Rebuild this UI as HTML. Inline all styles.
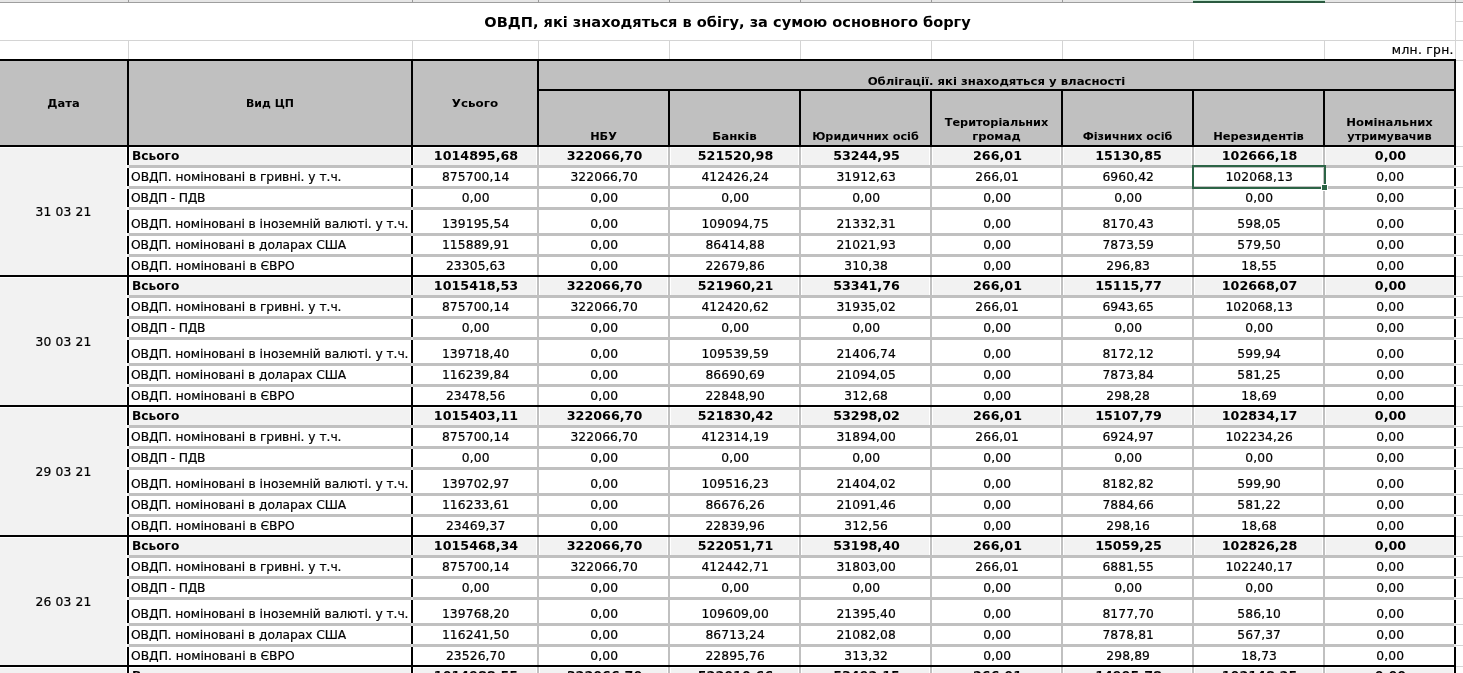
<!DOCTYPE html>
<html lang="uk"><head><meta charset="utf-8"><title>ОВДП, які знаходяться в обігу, за сумою основного боргу</title>
<style>
html,body{margin:0;padding:0;background:#fff}
#s{position:relative;width:1463px;height:673px;overflow:hidden;background:#fff;font-family:"DejaVu Sans", "Liberation Sans", sans-serif;color:#000}
.b{position:absolute;box-sizing:content-box}
.t{position:absolute;white-space:nowrap;height:0;line-height:0}
.n{font-size:12.3px;-webkit-text-stroke:0.2px #000}
.nb{font-size:12.3px;font-weight:bold}
.h{font-size:11px;font-weight:bold}
.tt{font-size:14.5px;font-weight:bold}
</style></head>
<body><div id="s">
<div class="b" style="left:0px;top:0px;width:1463px;height:2px;background:#e6e6e6"></div>
<div class="b" style="left:0px;top:2px;width:1463px;height:1px;background:#9e9e9e"></div>
<div class="b" style="left:128px;top:0px;width:1px;height:2px;background:#9a9a9a"></div>
<div class="b" style="left:412px;top:0px;width:1px;height:2px;background:#9a9a9a"></div>
<div class="b" style="left:538px;top:0px;width:1px;height:2px;background:#9a9a9a"></div>
<div class="b" style="left:669px;top:0px;width:1px;height:2px;background:#9a9a9a"></div>
<div class="b" style="left:800px;top:0px;width:1px;height:2px;background:#9a9a9a"></div>
<div class="b" style="left:931px;top:0px;width:1px;height:2px;background:#9a9a9a"></div>
<div class="b" style="left:1062px;top:0px;width:1px;height:2px;background:#9a9a9a"></div>
<div class="b" style="left:1193px;top:0px;width:1px;height:2px;background:#9a9a9a"></div>
<div class="b" style="left:1324px;top:0px;width:1px;height:2px;background:#9a9a9a"></div>
<div class="b" style="left:1455px;top:0px;width:1px;height:2px;background:#9a9a9a"></div>
<div class="b" style="left:1193px;top:0px;width:132px;height:1px;background:#c4e6d2"></div>
<div class="b" style="left:1193px;top:1px;width:132px;height:2px;background:#2a5a40"></div>
<div class="b" style="left:0px;top:40px;width:1463px;height:1px;background:#d4d4d4"></div>
<div class="b" style="left:1456px;top:21px;width:7px;height:1px;background:#d4d4d4"></div>
<div class="b" style="left:128px;top:41px;width:1px;height:18px;background:#d4d4d4"></div>
<div class="b" style="left:412px;top:41px;width:1px;height:18px;background:#d4d4d4"></div>
<div class="b" style="left:538px;top:41px;width:1px;height:18px;background:#d4d4d4"></div>
<div class="b" style="left:669px;top:41px;width:1px;height:18px;background:#d4d4d4"></div>
<div class="b" style="left:800px;top:41px;width:1px;height:18px;background:#d4d4d4"></div>
<div class="b" style="left:931px;top:41px;width:1px;height:18px;background:#d4d4d4"></div>
<div class="b" style="left:1062px;top:41px;width:1px;height:18px;background:#d4d4d4"></div>
<div class="b" style="left:1193px;top:41px;width:1px;height:18px;background:#d4d4d4"></div>
<div class="b" style="left:1324px;top:41px;width:1px;height:18px;background:#d4d4d4"></div>
<div class="b" style="left:1455px;top:41px;width:1px;height:18px;background:#d4d4d4"></div>
<div class="b" style="left:1455px;top:3px;width:1px;height:56px;background:#d4d4d4"></div>
<div class="b" style="left:1456px;top:60px;width:7px;height:1px;background:#d4d4d4"></div>
<div class="b" style="left:1456px;top:146px;width:7px;height:1px;background:#d4d4d4"></div>
<div class="b" style="left:1456px;top:166px;width:7px;height:1px;background:#d4d4d4"></div>
<div class="b" style="left:1456px;top:187px;width:7px;height:1px;background:#d4d4d4"></div>
<div class="b" style="left:1456px;top:208px;width:7px;height:1px;background:#d4d4d4"></div>
<div class="b" style="left:1456px;top:234px;width:7px;height:1px;background:#d4d4d4"></div>
<div class="b" style="left:1456px;top:255px;width:7px;height:1px;background:#d4d4d4"></div>
<div class="b" style="left:1456px;top:276px;width:7px;height:1px;background:#d4d4d4"></div>
<div class="b" style="left:1456px;top:296px;width:7px;height:1px;background:#d4d4d4"></div>
<div class="b" style="left:1456px;top:317px;width:7px;height:1px;background:#d4d4d4"></div>
<div class="b" style="left:1456px;top:338px;width:7px;height:1px;background:#d4d4d4"></div>
<div class="b" style="left:1456px;top:364px;width:7px;height:1px;background:#d4d4d4"></div>
<div class="b" style="left:1456px;top:385px;width:7px;height:1px;background:#d4d4d4"></div>
<div class="b" style="left:1456px;top:406px;width:7px;height:1px;background:#d4d4d4"></div>
<div class="b" style="left:1456px;top:426px;width:7px;height:1px;background:#d4d4d4"></div>
<div class="b" style="left:1456px;top:447px;width:7px;height:1px;background:#d4d4d4"></div>
<div class="b" style="left:1456px;top:468px;width:7px;height:1px;background:#d4d4d4"></div>
<div class="b" style="left:1456px;top:494px;width:7px;height:1px;background:#d4d4d4"></div>
<div class="b" style="left:1456px;top:515px;width:7px;height:1px;background:#d4d4d4"></div>
<div class="b" style="left:1456px;top:536px;width:7px;height:1px;background:#d4d4d4"></div>
<div class="b" style="left:1456px;top:556px;width:7px;height:1px;background:#d4d4d4"></div>
<div class="b" style="left:1456px;top:577px;width:7px;height:1px;background:#d4d4d4"></div>
<div class="b" style="left:1456px;top:598px;width:7px;height:1px;background:#d4d4d4"></div>
<div class="b" style="left:1456px;top:624px;width:7px;height:1px;background:#d4d4d4"></div>
<div class="b" style="left:1456px;top:645px;width:7px;height:1px;background:#d4d4d4"></div>
<div class="b" style="left:1456px;top:666px;width:7px;height:1px;background:#d4d4d4"></div>
<div class="b" style="left:0px;top:61px;width:1454px;height:84px;background:#c0c0c0"></div>
<div class="b" style="left:0px;top:148px;width:126px;height:127px;background:#f2f2f2"></div>
<div class="b" style="left:130px;top:148px;width:280px;height:17px;background:#f2f2f2"></div>
<div class="b" style="left:414px;top:148px;width:122px;height:17px;background:#f2f2f2"></div>
<div class="b" style="left:540px;top:148px;width:127px;height:17px;background:#f2f2f2"></div>
<div class="b" style="left:671px;top:148px;width:127px;height:17px;background:#f2f2f2"></div>
<div class="b" style="left:802px;top:148px;width:127px;height:17px;background:#f2f2f2"></div>
<div class="b" style="left:933px;top:148px;width:127px;height:17px;background:#f2f2f2"></div>
<div class="b" style="left:1064px;top:148px;width:127px;height:17px;background:#f2f2f2"></div>
<div class="b" style="left:1195px;top:148px;width:127px;height:17px;background:#f2f2f2"></div>
<div class="b" style="left:1326px;top:148px;width:127px;height:17px;background:#f2f2f2"></div>
<div class="b" style="left:0px;top:278px;width:126px;height:127px;background:#f2f2f2"></div>
<div class="b" style="left:130px;top:278px;width:280px;height:17px;background:#f2f2f2"></div>
<div class="b" style="left:414px;top:278px;width:122px;height:17px;background:#f2f2f2"></div>
<div class="b" style="left:540px;top:278px;width:127px;height:17px;background:#f2f2f2"></div>
<div class="b" style="left:671px;top:278px;width:127px;height:17px;background:#f2f2f2"></div>
<div class="b" style="left:802px;top:278px;width:127px;height:17px;background:#f2f2f2"></div>
<div class="b" style="left:933px;top:278px;width:127px;height:17px;background:#f2f2f2"></div>
<div class="b" style="left:1064px;top:278px;width:127px;height:17px;background:#f2f2f2"></div>
<div class="b" style="left:1195px;top:278px;width:127px;height:17px;background:#f2f2f2"></div>
<div class="b" style="left:1326px;top:278px;width:127px;height:17px;background:#f2f2f2"></div>
<div class="b" style="left:0px;top:408px;width:126px;height:127px;background:#f2f2f2"></div>
<div class="b" style="left:130px;top:408px;width:280px;height:17px;background:#f2f2f2"></div>
<div class="b" style="left:414px;top:408px;width:122px;height:17px;background:#f2f2f2"></div>
<div class="b" style="left:540px;top:408px;width:127px;height:17px;background:#f2f2f2"></div>
<div class="b" style="left:671px;top:408px;width:127px;height:17px;background:#f2f2f2"></div>
<div class="b" style="left:802px;top:408px;width:127px;height:17px;background:#f2f2f2"></div>
<div class="b" style="left:933px;top:408px;width:127px;height:17px;background:#f2f2f2"></div>
<div class="b" style="left:1064px;top:408px;width:127px;height:17px;background:#f2f2f2"></div>
<div class="b" style="left:1195px;top:408px;width:127px;height:17px;background:#f2f2f2"></div>
<div class="b" style="left:1326px;top:408px;width:127px;height:17px;background:#f2f2f2"></div>
<div class="b" style="left:0px;top:538px;width:126px;height:127px;background:#f2f2f2"></div>
<div class="b" style="left:130px;top:538px;width:280px;height:17px;background:#f2f2f2"></div>
<div class="b" style="left:414px;top:538px;width:122px;height:17px;background:#f2f2f2"></div>
<div class="b" style="left:540px;top:538px;width:127px;height:17px;background:#f2f2f2"></div>
<div class="b" style="left:671px;top:538px;width:127px;height:17px;background:#f2f2f2"></div>
<div class="b" style="left:802px;top:538px;width:127px;height:17px;background:#f2f2f2"></div>
<div class="b" style="left:933px;top:538px;width:127px;height:17px;background:#f2f2f2"></div>
<div class="b" style="left:1064px;top:538px;width:127px;height:17px;background:#f2f2f2"></div>
<div class="b" style="left:1195px;top:538px;width:127px;height:17px;background:#f2f2f2"></div>
<div class="b" style="left:1326px;top:538px;width:127px;height:17px;background:#f2f2f2"></div>
<div class="b" style="left:0px;top:668px;width:126px;height:127px;background:#f2f2f2"></div>
<div class="b" style="left:130px;top:668px;width:280px;height:17px;background:#f2f2f2"></div>
<div class="b" style="left:414px;top:668px;width:122px;height:17px;background:#f2f2f2"></div>
<div class="b" style="left:540px;top:668px;width:127px;height:17px;background:#f2f2f2"></div>
<div class="b" style="left:671px;top:668px;width:127px;height:17px;background:#f2f2f2"></div>
<div class="b" style="left:802px;top:668px;width:127px;height:17px;background:#f2f2f2"></div>
<div class="b" style="left:933px;top:668px;width:127px;height:17px;background:#f2f2f2"></div>
<div class="b" style="left:1064px;top:668px;width:127px;height:17px;background:#f2f2f2"></div>
<div class="b" style="left:1195px;top:668px;width:127px;height:17px;background:#f2f2f2"></div>
<div class="b" style="left:1326px;top:668px;width:127px;height:17px;background:#f2f2f2"></div>
<div class="b" style="left:129px;top:165px;width:1327px;height:3px;background:#c0c0c0"></div>
<div class="b" style="left:129px;top:186px;width:1327px;height:3px;background:#c0c0c0"></div>
<div class="b" style="left:129px;top:207px;width:1327px;height:3px;background:#c0c0c0"></div>
<div class="b" style="left:129px;top:233px;width:1327px;height:3px;background:#c0c0c0"></div>
<div class="b" style="left:129px;top:254px;width:1327px;height:3px;background:#c0c0c0"></div>
<div class="b" style="left:537px;top:147px;width:2px;height:129px;background:#c0c0c0"></div>
<div class="b" style="left:668px;top:147px;width:2px;height:129px;background:#c0c0c0"></div>
<div class="b" style="left:799px;top:147px;width:2px;height:129px;background:#c0c0c0"></div>
<div class="b" style="left:930px;top:147px;width:2px;height:129px;background:#c0c0c0"></div>
<div class="b" style="left:1061px;top:147px;width:2px;height:129px;background:#c0c0c0"></div>
<div class="b" style="left:1192px;top:147px;width:2px;height:129px;background:#c0c0c0"></div>
<div class="b" style="left:1323px;top:147px;width:2px;height:129px;background:#c0c0c0"></div>
<div class="b" style="left:129px;top:295px;width:1327px;height:3px;background:#c0c0c0"></div>
<div class="b" style="left:129px;top:316px;width:1327px;height:3px;background:#c0c0c0"></div>
<div class="b" style="left:129px;top:337px;width:1327px;height:3px;background:#c0c0c0"></div>
<div class="b" style="left:129px;top:363px;width:1327px;height:3px;background:#c0c0c0"></div>
<div class="b" style="left:129px;top:384px;width:1327px;height:3px;background:#c0c0c0"></div>
<div class="b" style="left:537px;top:277px;width:2px;height:129px;background:#c0c0c0"></div>
<div class="b" style="left:668px;top:277px;width:2px;height:129px;background:#c0c0c0"></div>
<div class="b" style="left:799px;top:277px;width:2px;height:129px;background:#c0c0c0"></div>
<div class="b" style="left:930px;top:277px;width:2px;height:129px;background:#c0c0c0"></div>
<div class="b" style="left:1061px;top:277px;width:2px;height:129px;background:#c0c0c0"></div>
<div class="b" style="left:1192px;top:277px;width:2px;height:129px;background:#c0c0c0"></div>
<div class="b" style="left:1323px;top:277px;width:2px;height:129px;background:#c0c0c0"></div>
<div class="b" style="left:129px;top:425px;width:1327px;height:3px;background:#c0c0c0"></div>
<div class="b" style="left:129px;top:446px;width:1327px;height:3px;background:#c0c0c0"></div>
<div class="b" style="left:129px;top:467px;width:1327px;height:3px;background:#c0c0c0"></div>
<div class="b" style="left:129px;top:493px;width:1327px;height:3px;background:#c0c0c0"></div>
<div class="b" style="left:129px;top:514px;width:1327px;height:3px;background:#c0c0c0"></div>
<div class="b" style="left:537px;top:407px;width:2px;height:129px;background:#c0c0c0"></div>
<div class="b" style="left:668px;top:407px;width:2px;height:129px;background:#c0c0c0"></div>
<div class="b" style="left:799px;top:407px;width:2px;height:129px;background:#c0c0c0"></div>
<div class="b" style="left:930px;top:407px;width:2px;height:129px;background:#c0c0c0"></div>
<div class="b" style="left:1061px;top:407px;width:2px;height:129px;background:#c0c0c0"></div>
<div class="b" style="left:1192px;top:407px;width:2px;height:129px;background:#c0c0c0"></div>
<div class="b" style="left:1323px;top:407px;width:2px;height:129px;background:#c0c0c0"></div>
<div class="b" style="left:129px;top:555px;width:1327px;height:3px;background:#c0c0c0"></div>
<div class="b" style="left:129px;top:576px;width:1327px;height:3px;background:#c0c0c0"></div>
<div class="b" style="left:129px;top:597px;width:1327px;height:3px;background:#c0c0c0"></div>
<div class="b" style="left:129px;top:623px;width:1327px;height:3px;background:#c0c0c0"></div>
<div class="b" style="left:129px;top:644px;width:1327px;height:3px;background:#c0c0c0"></div>
<div class="b" style="left:537px;top:537px;width:2px;height:129px;background:#c0c0c0"></div>
<div class="b" style="left:668px;top:537px;width:2px;height:129px;background:#c0c0c0"></div>
<div class="b" style="left:799px;top:537px;width:2px;height:129px;background:#c0c0c0"></div>
<div class="b" style="left:930px;top:537px;width:2px;height:129px;background:#c0c0c0"></div>
<div class="b" style="left:1061px;top:537px;width:2px;height:129px;background:#c0c0c0"></div>
<div class="b" style="left:1192px;top:537px;width:2px;height:129px;background:#c0c0c0"></div>
<div class="b" style="left:1323px;top:537px;width:2px;height:129px;background:#c0c0c0"></div>
<div class="b" style="left:129px;top:685px;width:1327px;height:3px;background:#c0c0c0"></div>
<div class="b" style="left:129px;top:706px;width:1327px;height:3px;background:#c0c0c0"></div>
<div class="b" style="left:129px;top:727px;width:1327px;height:3px;background:#c0c0c0"></div>
<div class="b" style="left:129px;top:753px;width:1327px;height:3px;background:#c0c0c0"></div>
<div class="b" style="left:129px;top:774px;width:1327px;height:3px;background:#c0c0c0"></div>
<div class="b" style="left:537px;top:667px;width:2px;height:129px;background:#c0c0c0"></div>
<div class="b" style="left:668px;top:667px;width:2px;height:129px;background:#c0c0c0"></div>
<div class="b" style="left:799px;top:667px;width:2px;height:129px;background:#c0c0c0"></div>
<div class="b" style="left:930px;top:667px;width:2px;height:129px;background:#c0c0c0"></div>
<div class="b" style="left:1061px;top:667px;width:2px;height:129px;background:#c0c0c0"></div>
<div class="b" style="left:1192px;top:667px;width:2px;height:129px;background:#c0c0c0"></div>
<div class="b" style="left:1323px;top:667px;width:2px;height:129px;background:#c0c0c0"></div>
<div class="b" style="left:0px;top:59px;width:1456px;height:2px;background:#000"></div>
<div class="b" style="left:537px;top:89px;width:919px;height:2px;background:#000"></div>
<div class="b" style="left:0px;top:145px;width:1456px;height:2px;background:#000"></div>
<div class="b" style="left:0px;top:275px;width:1456px;height:2px;background:#000"></div>
<div class="b" style="left:0px;top:405px;width:1456px;height:2px;background:#000"></div>
<div class="b" style="left:0px;top:535px;width:1456px;height:2px;background:#000"></div>
<div class="b" style="left:0px;top:665px;width:1456px;height:2px;background:#000"></div>
<div class="b" style="left:0px;top:795px;width:1456px;height:2px;background:#000"></div>
<div class="b" style="left:127px;top:59px;width:2px;height:88px;background:#000"></div>
<div class="b" style="left:127px;top:147px;width:2px;height:18px;background:#000"></div>
<div class="b" style="left:127px;top:168px;width:2px;height:18px;background:#000"></div>
<div class="b" style="left:127px;top:189px;width:2px;height:18px;background:#000"></div>
<div class="b" style="left:127px;top:210px;width:2px;height:23px;background:#000"></div>
<div class="b" style="left:127px;top:236px;width:2px;height:18px;background:#000"></div>
<div class="b" style="left:127px;top:257px;width:2px;height:20px;background:#000"></div>
<div class="b" style="left:127px;top:277px;width:2px;height:18px;background:#000"></div>
<div class="b" style="left:127px;top:298px;width:2px;height:18px;background:#000"></div>
<div class="b" style="left:127px;top:319px;width:2px;height:18px;background:#000"></div>
<div class="b" style="left:127px;top:340px;width:2px;height:23px;background:#000"></div>
<div class="b" style="left:127px;top:366px;width:2px;height:18px;background:#000"></div>
<div class="b" style="left:127px;top:387px;width:2px;height:20px;background:#000"></div>
<div class="b" style="left:127px;top:407px;width:2px;height:18px;background:#000"></div>
<div class="b" style="left:127px;top:428px;width:2px;height:18px;background:#000"></div>
<div class="b" style="left:127px;top:449px;width:2px;height:18px;background:#000"></div>
<div class="b" style="left:127px;top:470px;width:2px;height:23px;background:#000"></div>
<div class="b" style="left:127px;top:496px;width:2px;height:18px;background:#000"></div>
<div class="b" style="left:127px;top:517px;width:2px;height:20px;background:#000"></div>
<div class="b" style="left:127px;top:537px;width:2px;height:18px;background:#000"></div>
<div class="b" style="left:127px;top:558px;width:2px;height:18px;background:#000"></div>
<div class="b" style="left:127px;top:579px;width:2px;height:18px;background:#000"></div>
<div class="b" style="left:127px;top:600px;width:2px;height:23px;background:#000"></div>
<div class="b" style="left:127px;top:626px;width:2px;height:18px;background:#000"></div>
<div class="b" style="left:127px;top:647px;width:2px;height:20px;background:#000"></div>
<div class="b" style="left:127px;top:667px;width:2px;height:18px;background:#000"></div>
<div class="b" style="left:127px;top:688px;width:2px;height:18px;background:#000"></div>
<div class="b" style="left:127px;top:709px;width:2px;height:18px;background:#000"></div>
<div class="b" style="left:127px;top:730px;width:2px;height:23px;background:#000"></div>
<div class="b" style="left:127px;top:756px;width:2px;height:18px;background:#000"></div>
<div class="b" style="left:127px;top:777px;width:2px;height:20px;background:#000"></div>
<div class="b" style="left:411px;top:59px;width:2px;height:88px;background:#000"></div>
<div class="b" style="left:411px;top:147px;width:2px;height:18px;background:#000"></div>
<div class="b" style="left:411px;top:168px;width:2px;height:18px;background:#000"></div>
<div class="b" style="left:411px;top:189px;width:2px;height:18px;background:#000"></div>
<div class="b" style="left:411px;top:210px;width:2px;height:23px;background:#000"></div>
<div class="b" style="left:411px;top:236px;width:2px;height:18px;background:#000"></div>
<div class="b" style="left:411px;top:257px;width:2px;height:20px;background:#000"></div>
<div class="b" style="left:411px;top:277px;width:2px;height:18px;background:#000"></div>
<div class="b" style="left:411px;top:298px;width:2px;height:18px;background:#000"></div>
<div class="b" style="left:411px;top:319px;width:2px;height:18px;background:#000"></div>
<div class="b" style="left:411px;top:340px;width:2px;height:23px;background:#000"></div>
<div class="b" style="left:411px;top:366px;width:2px;height:18px;background:#000"></div>
<div class="b" style="left:411px;top:387px;width:2px;height:20px;background:#000"></div>
<div class="b" style="left:411px;top:407px;width:2px;height:18px;background:#000"></div>
<div class="b" style="left:411px;top:428px;width:2px;height:18px;background:#000"></div>
<div class="b" style="left:411px;top:449px;width:2px;height:18px;background:#000"></div>
<div class="b" style="left:411px;top:470px;width:2px;height:23px;background:#000"></div>
<div class="b" style="left:411px;top:496px;width:2px;height:18px;background:#000"></div>
<div class="b" style="left:411px;top:517px;width:2px;height:20px;background:#000"></div>
<div class="b" style="left:411px;top:537px;width:2px;height:18px;background:#000"></div>
<div class="b" style="left:411px;top:558px;width:2px;height:18px;background:#000"></div>
<div class="b" style="left:411px;top:579px;width:2px;height:18px;background:#000"></div>
<div class="b" style="left:411px;top:600px;width:2px;height:23px;background:#000"></div>
<div class="b" style="left:411px;top:626px;width:2px;height:18px;background:#000"></div>
<div class="b" style="left:411px;top:647px;width:2px;height:20px;background:#000"></div>
<div class="b" style="left:411px;top:667px;width:2px;height:18px;background:#000"></div>
<div class="b" style="left:411px;top:688px;width:2px;height:18px;background:#000"></div>
<div class="b" style="left:411px;top:709px;width:2px;height:18px;background:#000"></div>
<div class="b" style="left:411px;top:730px;width:2px;height:23px;background:#000"></div>
<div class="b" style="left:411px;top:756px;width:2px;height:18px;background:#000"></div>
<div class="b" style="left:411px;top:777px;width:2px;height:20px;background:#000"></div>
<div class="b" style="left:1454px;top:59px;width:2px;height:88px;background:#000"></div>
<div class="b" style="left:1454px;top:147px;width:2px;height:18px;background:#000"></div>
<div class="b" style="left:1454px;top:168px;width:2px;height:18px;background:#000"></div>
<div class="b" style="left:1454px;top:189px;width:2px;height:18px;background:#000"></div>
<div class="b" style="left:1454px;top:210px;width:2px;height:23px;background:#000"></div>
<div class="b" style="left:1454px;top:236px;width:2px;height:18px;background:#000"></div>
<div class="b" style="left:1454px;top:257px;width:2px;height:20px;background:#000"></div>
<div class="b" style="left:1454px;top:277px;width:2px;height:18px;background:#000"></div>
<div class="b" style="left:1454px;top:298px;width:2px;height:18px;background:#000"></div>
<div class="b" style="left:1454px;top:319px;width:2px;height:18px;background:#000"></div>
<div class="b" style="left:1454px;top:340px;width:2px;height:23px;background:#000"></div>
<div class="b" style="left:1454px;top:366px;width:2px;height:18px;background:#000"></div>
<div class="b" style="left:1454px;top:387px;width:2px;height:20px;background:#000"></div>
<div class="b" style="left:1454px;top:407px;width:2px;height:18px;background:#000"></div>
<div class="b" style="left:1454px;top:428px;width:2px;height:18px;background:#000"></div>
<div class="b" style="left:1454px;top:449px;width:2px;height:18px;background:#000"></div>
<div class="b" style="left:1454px;top:470px;width:2px;height:23px;background:#000"></div>
<div class="b" style="left:1454px;top:496px;width:2px;height:18px;background:#000"></div>
<div class="b" style="left:1454px;top:517px;width:2px;height:20px;background:#000"></div>
<div class="b" style="left:1454px;top:537px;width:2px;height:18px;background:#000"></div>
<div class="b" style="left:1454px;top:558px;width:2px;height:18px;background:#000"></div>
<div class="b" style="left:1454px;top:579px;width:2px;height:18px;background:#000"></div>
<div class="b" style="left:1454px;top:600px;width:2px;height:23px;background:#000"></div>
<div class="b" style="left:1454px;top:626px;width:2px;height:18px;background:#000"></div>
<div class="b" style="left:1454px;top:647px;width:2px;height:20px;background:#000"></div>
<div class="b" style="left:1454px;top:667px;width:2px;height:18px;background:#000"></div>
<div class="b" style="left:1454px;top:688px;width:2px;height:18px;background:#000"></div>
<div class="b" style="left:1454px;top:709px;width:2px;height:18px;background:#000"></div>
<div class="b" style="left:1454px;top:730px;width:2px;height:23px;background:#000"></div>
<div class="b" style="left:1454px;top:756px;width:2px;height:18px;background:#000"></div>
<div class="b" style="left:1454px;top:777px;width:2px;height:20px;background:#000"></div>
<div class="b" style="left:127px;top:165px;width:2px;height:3px;background:#ececec"></div>
<div class="b" style="left:411px;top:165px;width:2px;height:3px;background:#dadada"></div>
<div class="b" style="left:1454px;top:165px;width:2px;height:3px;background:#dedede"></div>
<div class="b" style="left:127px;top:186px;width:2px;height:3px;background:#ececec"></div>
<div class="b" style="left:411px;top:186px;width:2px;height:3px;background:#dadada"></div>
<div class="b" style="left:1454px;top:186px;width:2px;height:3px;background:#dedede"></div>
<div class="b" style="left:127px;top:207px;width:2px;height:3px;background:#ececec"></div>
<div class="b" style="left:411px;top:207px;width:2px;height:3px;background:#dadada"></div>
<div class="b" style="left:1454px;top:207px;width:2px;height:3px;background:#dedede"></div>
<div class="b" style="left:127px;top:233px;width:2px;height:3px;background:#ececec"></div>
<div class="b" style="left:411px;top:233px;width:2px;height:3px;background:#dadada"></div>
<div class="b" style="left:1454px;top:233px;width:2px;height:3px;background:#dedede"></div>
<div class="b" style="left:127px;top:254px;width:2px;height:3px;background:#ececec"></div>
<div class="b" style="left:411px;top:254px;width:2px;height:3px;background:#dadada"></div>
<div class="b" style="left:1454px;top:254px;width:2px;height:3px;background:#dedede"></div>
<div class="b" style="left:127px;top:295px;width:2px;height:3px;background:#ececec"></div>
<div class="b" style="left:411px;top:295px;width:2px;height:3px;background:#dadada"></div>
<div class="b" style="left:1454px;top:295px;width:2px;height:3px;background:#dedede"></div>
<div class="b" style="left:127px;top:316px;width:2px;height:3px;background:#ececec"></div>
<div class="b" style="left:411px;top:316px;width:2px;height:3px;background:#dadada"></div>
<div class="b" style="left:1454px;top:316px;width:2px;height:3px;background:#dedede"></div>
<div class="b" style="left:127px;top:337px;width:2px;height:3px;background:#ececec"></div>
<div class="b" style="left:411px;top:337px;width:2px;height:3px;background:#dadada"></div>
<div class="b" style="left:1454px;top:337px;width:2px;height:3px;background:#dedede"></div>
<div class="b" style="left:127px;top:363px;width:2px;height:3px;background:#ececec"></div>
<div class="b" style="left:411px;top:363px;width:2px;height:3px;background:#dadada"></div>
<div class="b" style="left:1454px;top:363px;width:2px;height:3px;background:#dedede"></div>
<div class="b" style="left:127px;top:384px;width:2px;height:3px;background:#ececec"></div>
<div class="b" style="left:411px;top:384px;width:2px;height:3px;background:#dadada"></div>
<div class="b" style="left:1454px;top:384px;width:2px;height:3px;background:#dedede"></div>
<div class="b" style="left:127px;top:425px;width:2px;height:3px;background:#ececec"></div>
<div class="b" style="left:411px;top:425px;width:2px;height:3px;background:#dadada"></div>
<div class="b" style="left:1454px;top:425px;width:2px;height:3px;background:#dedede"></div>
<div class="b" style="left:127px;top:446px;width:2px;height:3px;background:#ececec"></div>
<div class="b" style="left:411px;top:446px;width:2px;height:3px;background:#dadada"></div>
<div class="b" style="left:1454px;top:446px;width:2px;height:3px;background:#dedede"></div>
<div class="b" style="left:127px;top:467px;width:2px;height:3px;background:#ececec"></div>
<div class="b" style="left:411px;top:467px;width:2px;height:3px;background:#dadada"></div>
<div class="b" style="left:1454px;top:467px;width:2px;height:3px;background:#dedede"></div>
<div class="b" style="left:127px;top:493px;width:2px;height:3px;background:#ececec"></div>
<div class="b" style="left:411px;top:493px;width:2px;height:3px;background:#dadada"></div>
<div class="b" style="left:1454px;top:493px;width:2px;height:3px;background:#dedede"></div>
<div class="b" style="left:127px;top:514px;width:2px;height:3px;background:#ececec"></div>
<div class="b" style="left:411px;top:514px;width:2px;height:3px;background:#dadada"></div>
<div class="b" style="left:1454px;top:514px;width:2px;height:3px;background:#dedede"></div>
<div class="b" style="left:127px;top:555px;width:2px;height:3px;background:#ececec"></div>
<div class="b" style="left:411px;top:555px;width:2px;height:3px;background:#dadada"></div>
<div class="b" style="left:1454px;top:555px;width:2px;height:3px;background:#dedede"></div>
<div class="b" style="left:127px;top:576px;width:2px;height:3px;background:#ececec"></div>
<div class="b" style="left:411px;top:576px;width:2px;height:3px;background:#dadada"></div>
<div class="b" style="left:1454px;top:576px;width:2px;height:3px;background:#dedede"></div>
<div class="b" style="left:127px;top:597px;width:2px;height:3px;background:#ececec"></div>
<div class="b" style="left:411px;top:597px;width:2px;height:3px;background:#dadada"></div>
<div class="b" style="left:1454px;top:597px;width:2px;height:3px;background:#dedede"></div>
<div class="b" style="left:127px;top:623px;width:2px;height:3px;background:#ececec"></div>
<div class="b" style="left:411px;top:623px;width:2px;height:3px;background:#dadada"></div>
<div class="b" style="left:1454px;top:623px;width:2px;height:3px;background:#dedede"></div>
<div class="b" style="left:127px;top:644px;width:2px;height:3px;background:#ececec"></div>
<div class="b" style="left:411px;top:644px;width:2px;height:3px;background:#dadada"></div>
<div class="b" style="left:1454px;top:644px;width:2px;height:3px;background:#dedede"></div>
<div class="b" style="left:127px;top:685px;width:2px;height:3px;background:#ececec"></div>
<div class="b" style="left:411px;top:685px;width:2px;height:3px;background:#dadada"></div>
<div class="b" style="left:1454px;top:685px;width:2px;height:3px;background:#dedede"></div>
<div class="b" style="left:127px;top:706px;width:2px;height:3px;background:#ececec"></div>
<div class="b" style="left:411px;top:706px;width:2px;height:3px;background:#dadada"></div>
<div class="b" style="left:1454px;top:706px;width:2px;height:3px;background:#dedede"></div>
<div class="b" style="left:127px;top:727px;width:2px;height:3px;background:#ececec"></div>
<div class="b" style="left:411px;top:727px;width:2px;height:3px;background:#dadada"></div>
<div class="b" style="left:1454px;top:727px;width:2px;height:3px;background:#dedede"></div>
<div class="b" style="left:127px;top:753px;width:2px;height:3px;background:#ececec"></div>
<div class="b" style="left:411px;top:753px;width:2px;height:3px;background:#dadada"></div>
<div class="b" style="left:1454px;top:753px;width:2px;height:3px;background:#dedede"></div>
<div class="b" style="left:127px;top:774px;width:2px;height:3px;background:#ececec"></div>
<div class="b" style="left:411px;top:774px;width:2px;height:3px;background:#dadada"></div>
<div class="b" style="left:1454px;top:774px;width:2px;height:3px;background:#dedede"></div>
<div class="b" style="left:537px;top:59px;width:2px;height:88px;background:#000"></div>
<div class="b" style="left:668px;top:89px;width:2px;height:58px;background:#000"></div>
<div class="b" style="left:799px;top:89px;width:2px;height:58px;background:#000"></div>
<div class="b" style="left:930px;top:89px;width:2px;height:58px;background:#000"></div>
<div class="b" style="left:1061px;top:89px;width:2px;height:58px;background:#000"></div>
<div class="b" style="left:1192px;top:89px;width:2px;height:58px;background:#000"></div>
<div class="b" style="left:1323px;top:89px;width:2px;height:58px;background:#000"></div>
<div class="b" style="left:1192px;top:165px;width:130px;height:20px;border:2px solid #2c6446;"></div>
<div class="b" style="left:1321px;top:184px;width:7px;height:7px;background:#fff"></div>
<div class="b" style="left:1322px;top:185px;width:5px;height:5px;background:#2c6446"></div>
<div class="t tt" style="left:0px;width:1455px;top:21.98px;text-align:center;transform:scaleX(1.0048);transform-origin:50% 0;">ОВДП, які знаходяться в обігу, за сумою основного боргу</div>
<div class="t n" style="left:1325px;width:128.81px;top:49.74px;text-align:right;letter-spacing:0.31px;">млн. грн.</div>
<div class="t h" style="left:0px;width:127px;top:104.19px;text-align:center;transform:scaleX(1.0417);transform-origin:50% 0;">Дата</div>
<div class="t h" style="left:129px;width:282px;top:104.19px;text-align:center;transform:scaleX(0.9947);transform-origin:50% 0;">Вид ЦП</div>
<div class="t h" style="left:413px;width:124px;top:104.19px;text-align:center;transform:scaleX(1.0833);transform-origin:50% 0;">Усього</div>
<div class="t h" style="left:539px;width:915px;top:82.19px;text-align:center;transform:scaleX(1.0628);transform-origin:50% 0;">Облігації. які знаходяться у власності</div>
<div class="t h" style="left:539px;width:129px;top:137.19px;text-align:center;transform:scaleX(1.025);transform-origin:50% 0;">НБУ</div>
<div class="t h" style="left:670px;width:129px;top:137.19px;text-align:center;transform:scaleX(1.0725);transform-origin:50% 0;">Банків</div>
<div class="t h" style="left:801px;width:129px;top:137.19px;text-align:center;transform:scaleX(1.0214);transform-origin:50% 0;">Юридичних осіб</div>
<div class="t h" style="left:932px;width:129px;top:123.19px;text-align:center;transform:scaleX(1.026);transform-origin:50% 0;">Територіальних</div>
<div class="t h" style="left:932px;width:129px;top:137.19px;text-align:center;transform:scaleX(1.0444);transform-origin:50% 0;">громад</div>
<div class="t h" style="left:1063px;width:129px;top:137.19px;text-align:center;transform:scaleX(1.0174);transform-origin:50% 0;">Фізичних осіб</div>
<div class="t h" style="left:1194px;width:129px;top:137.19px;text-align:center;transform:scaleX(1.0411);transform-origin:50% 0;">Нерезидентів</div>
<div class="t h" style="left:1325px;width:129px;top:123.19px;text-align:center;transform:scaleX(1.0572);transform-origin:50% 0;">Номінальних</div>
<div class="t h" style="left:1325px;width:129px;top:137.19px;text-align:center;transform:scaleX(1.0314);transform-origin:50% 0;">утримувачив</div>
<div class="t n" style="left:0px;width:127px;top:211.74px;text-align:center;letter-spacing:0.18px;">31 03 21</div>
<div class="t nb" style="left:131.7px;width:280px;top:155.74px;text-align:left;transform:scaleX(0.9913);transform-origin:0 0;">Всього</div>
<div class="t nb" style="left:413.8px;width:124px;top:155.74px;text-align:center;transform:scaleX(1.0325);transform-origin:50% 0;">1014895,68</div>
<div class="t nb" style="left:539.8px;width:129px;top:155.74px;text-align:center;transform:scaleX(1.0325);transform-origin:50% 0;">322066,70</div>
<div class="t nb" style="left:670.8px;width:129px;top:155.74px;text-align:center;transform:scaleX(1.0325);transform-origin:50% 0;">521520,98</div>
<div class="t nb" style="left:801.8px;width:129px;top:155.74px;text-align:center;transform:scaleX(1.0325);transform-origin:50% 0;">53244,95</div>
<div class="t nb" style="left:932.8px;width:129px;top:155.74px;text-align:center;transform:scaleX(1.0325);transform-origin:50% 0;">266,01</div>
<div class="t nb" style="left:1063.8px;width:129px;top:155.74px;text-align:center;transform:scaleX(1.0325);transform-origin:50% 0;">15130,85</div>
<div class="t nb" style="left:1194.8px;width:129px;top:155.74px;text-align:center;transform:scaleX(1.0325);transform-origin:50% 0;">102666,18</div>
<div class="t nb" style="left:1325.8px;width:129px;top:155.74px;text-align:center;transform:scaleX(1.0325);transform-origin:50% 0;">0,00</div>
<div class="t n" style="left:131px;width:280px;top:176.74px;text-align:left;letter-spacing:-0.05px;">ОВДП. номіновані в гривні. у т.ч.</div>
<div class="t n" style="left:413.7px;width:124px;top:176.74px;text-align:center;letter-spacing:0.11px;">875700,14</div>
<div class="t n" style="left:539.7px;width:129px;top:176.74px;text-align:center;letter-spacing:0.11px;">322066,70</div>
<div class="t n" style="left:670.7px;width:129px;top:176.74px;text-align:center;letter-spacing:0.11px;">412426,24</div>
<div class="t n" style="left:801.7px;width:129px;top:176.74px;text-align:center;letter-spacing:0.11px;">31912,63</div>
<div class="t n" style="left:932.7px;width:129px;top:176.74px;text-align:center;letter-spacing:0.11px;">266,01</div>
<div class="t n" style="left:1063.7px;width:129px;top:176.74px;text-align:center;letter-spacing:0.11px;">6960,42</div>
<div class="t n" style="left:1194.7px;width:129px;top:176.74px;text-align:center;letter-spacing:0.11px;">102068,13</div>
<div class="t n" style="left:1325.7px;width:129px;top:176.74px;text-align:center;letter-spacing:0.11px;">0,00</div>
<div class="t n" style="left:131px;width:280px;top:197.74px;text-align:left;letter-spacing:-0.22px;">ОВДП - ПДВ</div>
<div class="t n" style="left:413.7px;width:124px;top:197.74px;text-align:center;letter-spacing:0.11px;">0,00</div>
<div class="t n" style="left:539.7px;width:129px;top:197.74px;text-align:center;letter-spacing:0.11px;">0,00</div>
<div class="t n" style="left:670.7px;width:129px;top:197.74px;text-align:center;letter-spacing:0.11px;">0,00</div>
<div class="t n" style="left:801.7px;width:129px;top:197.74px;text-align:center;letter-spacing:0.11px;">0,00</div>
<div class="t n" style="left:932.7px;width:129px;top:197.74px;text-align:center;letter-spacing:0.11px;">0,00</div>
<div class="t n" style="left:1063.7px;width:129px;top:197.74px;text-align:center;letter-spacing:0.11px;">0,00</div>
<div class="t n" style="left:1194.7px;width:129px;top:197.74px;text-align:center;letter-spacing:0.11px;">0,00</div>
<div class="t n" style="left:1325.7px;width:129px;top:197.74px;text-align:center;letter-spacing:0.11px;">0,00</div>
<div class="t n" style="left:131px;width:280px;top:223.74px;text-align:left;letter-spacing:-0.07px;">ОВДП. номіновані в іноземній валюті. у т.ч.</div>
<div class="t n" style="left:413.7px;width:124px;top:223.74px;text-align:center;letter-spacing:0.11px;">139195,54</div>
<div class="t n" style="left:539.7px;width:129px;top:223.74px;text-align:center;letter-spacing:0.11px;">0,00</div>
<div class="t n" style="left:670.7px;width:129px;top:223.74px;text-align:center;letter-spacing:0.11px;">109094,75</div>
<div class="t n" style="left:801.7px;width:129px;top:223.74px;text-align:center;letter-spacing:0.11px;">21332,31</div>
<div class="t n" style="left:932.7px;width:129px;top:223.74px;text-align:center;letter-spacing:0.11px;">0,00</div>
<div class="t n" style="left:1063.7px;width:129px;top:223.74px;text-align:center;letter-spacing:0.11px;">8170,43</div>
<div class="t n" style="left:1194.7px;width:129px;top:223.74px;text-align:center;letter-spacing:0.11px;">598,05</div>
<div class="t n" style="left:1325.7px;width:129px;top:223.74px;text-align:center;letter-spacing:0.11px;">0,00</div>
<div class="t n" style="left:131px;width:280px;top:244.74px;text-align:left;letter-spacing:-0.1px;">ОВДП. номіновані в доларах США</div>
<div class="t n" style="left:413.7px;width:124px;top:244.74px;text-align:center;letter-spacing:0.11px;">115889,91</div>
<div class="t n" style="left:539.7px;width:129px;top:244.74px;text-align:center;letter-spacing:0.11px;">0,00</div>
<div class="t n" style="left:670.7px;width:129px;top:244.74px;text-align:center;letter-spacing:0.11px;">86414,88</div>
<div class="t n" style="left:801.7px;width:129px;top:244.74px;text-align:center;letter-spacing:0.11px;">21021,93</div>
<div class="t n" style="left:932.7px;width:129px;top:244.74px;text-align:center;letter-spacing:0.11px;">0,00</div>
<div class="t n" style="left:1063.7px;width:129px;top:244.74px;text-align:center;letter-spacing:0.11px;">7873,59</div>
<div class="t n" style="left:1194.7px;width:129px;top:244.74px;text-align:center;letter-spacing:0.11px;">579,50</div>
<div class="t n" style="left:1325.7px;width:129px;top:244.74px;text-align:center;letter-spacing:0.11px;">0,00</div>
<div class="t n" style="left:131px;width:280px;top:265.74px;text-align:left;letter-spacing:-0.02px;">ОВДП. номіновані в ЄВРО</div>
<div class="t n" style="left:413.7px;width:124px;top:265.74px;text-align:center;letter-spacing:0.11px;">23305,63</div>
<div class="t n" style="left:539.7px;width:129px;top:265.74px;text-align:center;letter-spacing:0.11px;">0,00</div>
<div class="t n" style="left:670.7px;width:129px;top:265.74px;text-align:center;letter-spacing:0.11px;">22679,86</div>
<div class="t n" style="left:801.7px;width:129px;top:265.74px;text-align:center;letter-spacing:0.11px;">310,38</div>
<div class="t n" style="left:932.7px;width:129px;top:265.74px;text-align:center;letter-spacing:0.11px;">0,00</div>
<div class="t n" style="left:1063.7px;width:129px;top:265.74px;text-align:center;letter-spacing:0.11px;">296,83</div>
<div class="t n" style="left:1194.7px;width:129px;top:265.74px;text-align:center;letter-spacing:0.11px;">18,55</div>
<div class="t n" style="left:1325.7px;width:129px;top:265.74px;text-align:center;letter-spacing:0.11px;">0,00</div>
<div class="t n" style="left:0px;width:127px;top:341.74px;text-align:center;letter-spacing:0.18px;">30 03 21</div>
<div class="t nb" style="left:131.7px;width:280px;top:285.74px;text-align:left;transform:scaleX(0.9913);transform-origin:0 0;">Всього</div>
<div class="t nb" style="left:413.8px;width:124px;top:285.74px;text-align:center;transform:scaleX(1.0325);transform-origin:50% 0;">1015418,53</div>
<div class="t nb" style="left:539.8px;width:129px;top:285.74px;text-align:center;transform:scaleX(1.0325);transform-origin:50% 0;">322066,70</div>
<div class="t nb" style="left:670.8px;width:129px;top:285.74px;text-align:center;transform:scaleX(1.0325);transform-origin:50% 0;">521960,21</div>
<div class="t nb" style="left:801.8px;width:129px;top:285.74px;text-align:center;transform:scaleX(1.0325);transform-origin:50% 0;">53341,76</div>
<div class="t nb" style="left:932.8px;width:129px;top:285.74px;text-align:center;transform:scaleX(1.0325);transform-origin:50% 0;">266,01</div>
<div class="t nb" style="left:1063.8px;width:129px;top:285.74px;text-align:center;transform:scaleX(1.0325);transform-origin:50% 0;">15115,77</div>
<div class="t nb" style="left:1194.8px;width:129px;top:285.74px;text-align:center;transform:scaleX(1.0325);transform-origin:50% 0;">102668,07</div>
<div class="t nb" style="left:1325.8px;width:129px;top:285.74px;text-align:center;transform:scaleX(1.0325);transform-origin:50% 0;">0,00</div>
<div class="t n" style="left:131px;width:280px;top:306.74px;text-align:left;letter-spacing:-0.05px;">ОВДП. номіновані в гривні. у т.ч.</div>
<div class="t n" style="left:413.7px;width:124px;top:306.74px;text-align:center;letter-spacing:0.11px;">875700,14</div>
<div class="t n" style="left:539.7px;width:129px;top:306.74px;text-align:center;letter-spacing:0.11px;">322066,70</div>
<div class="t n" style="left:670.7px;width:129px;top:306.74px;text-align:center;letter-spacing:0.11px;">412420,62</div>
<div class="t n" style="left:801.7px;width:129px;top:306.74px;text-align:center;letter-spacing:0.11px;">31935,02</div>
<div class="t n" style="left:932.7px;width:129px;top:306.74px;text-align:center;letter-spacing:0.11px;">266,01</div>
<div class="t n" style="left:1063.7px;width:129px;top:306.74px;text-align:center;letter-spacing:0.11px;">6943,65</div>
<div class="t n" style="left:1194.7px;width:129px;top:306.74px;text-align:center;letter-spacing:0.11px;">102068,13</div>
<div class="t n" style="left:1325.7px;width:129px;top:306.74px;text-align:center;letter-spacing:0.11px;">0,00</div>
<div class="t n" style="left:131px;width:280px;top:327.74px;text-align:left;letter-spacing:-0.22px;">ОВДП - ПДВ</div>
<div class="t n" style="left:413.7px;width:124px;top:327.74px;text-align:center;letter-spacing:0.11px;">0,00</div>
<div class="t n" style="left:539.7px;width:129px;top:327.74px;text-align:center;letter-spacing:0.11px;">0,00</div>
<div class="t n" style="left:670.7px;width:129px;top:327.74px;text-align:center;letter-spacing:0.11px;">0,00</div>
<div class="t n" style="left:801.7px;width:129px;top:327.74px;text-align:center;letter-spacing:0.11px;">0,00</div>
<div class="t n" style="left:932.7px;width:129px;top:327.74px;text-align:center;letter-spacing:0.11px;">0,00</div>
<div class="t n" style="left:1063.7px;width:129px;top:327.74px;text-align:center;letter-spacing:0.11px;">0,00</div>
<div class="t n" style="left:1194.7px;width:129px;top:327.74px;text-align:center;letter-spacing:0.11px;">0,00</div>
<div class="t n" style="left:1325.7px;width:129px;top:327.74px;text-align:center;letter-spacing:0.11px;">0,00</div>
<div class="t n" style="left:131px;width:280px;top:353.74px;text-align:left;letter-spacing:-0.07px;">ОВДП. номіновані в іноземній валюті. у т.ч.</div>
<div class="t n" style="left:413.7px;width:124px;top:353.74px;text-align:center;letter-spacing:0.11px;">139718,40</div>
<div class="t n" style="left:539.7px;width:129px;top:353.74px;text-align:center;letter-spacing:0.11px;">0,00</div>
<div class="t n" style="left:670.7px;width:129px;top:353.74px;text-align:center;letter-spacing:0.11px;">109539,59</div>
<div class="t n" style="left:801.7px;width:129px;top:353.74px;text-align:center;letter-spacing:0.11px;">21406,74</div>
<div class="t n" style="left:932.7px;width:129px;top:353.74px;text-align:center;letter-spacing:0.11px;">0,00</div>
<div class="t n" style="left:1063.7px;width:129px;top:353.74px;text-align:center;letter-spacing:0.11px;">8172,12</div>
<div class="t n" style="left:1194.7px;width:129px;top:353.74px;text-align:center;letter-spacing:0.11px;">599,94</div>
<div class="t n" style="left:1325.7px;width:129px;top:353.74px;text-align:center;letter-spacing:0.11px;">0,00</div>
<div class="t n" style="left:131px;width:280px;top:374.74px;text-align:left;letter-spacing:-0.1px;">ОВДП. номіновані в доларах США</div>
<div class="t n" style="left:413.7px;width:124px;top:374.74px;text-align:center;letter-spacing:0.11px;">116239,84</div>
<div class="t n" style="left:539.7px;width:129px;top:374.74px;text-align:center;letter-spacing:0.11px;">0,00</div>
<div class="t n" style="left:670.7px;width:129px;top:374.74px;text-align:center;letter-spacing:0.11px;">86690,69</div>
<div class="t n" style="left:801.7px;width:129px;top:374.74px;text-align:center;letter-spacing:0.11px;">21094,05</div>
<div class="t n" style="left:932.7px;width:129px;top:374.74px;text-align:center;letter-spacing:0.11px;">0,00</div>
<div class="t n" style="left:1063.7px;width:129px;top:374.74px;text-align:center;letter-spacing:0.11px;">7873,84</div>
<div class="t n" style="left:1194.7px;width:129px;top:374.74px;text-align:center;letter-spacing:0.11px;">581,25</div>
<div class="t n" style="left:1325.7px;width:129px;top:374.74px;text-align:center;letter-spacing:0.11px;">0,00</div>
<div class="t n" style="left:131px;width:280px;top:395.74px;text-align:left;letter-spacing:-0.02px;">ОВДП. номіновані в ЄВРО</div>
<div class="t n" style="left:413.7px;width:124px;top:395.74px;text-align:center;letter-spacing:0.11px;">23478,56</div>
<div class="t n" style="left:539.7px;width:129px;top:395.74px;text-align:center;letter-spacing:0.11px;">0,00</div>
<div class="t n" style="left:670.7px;width:129px;top:395.74px;text-align:center;letter-spacing:0.11px;">22848,90</div>
<div class="t n" style="left:801.7px;width:129px;top:395.74px;text-align:center;letter-spacing:0.11px;">312,68</div>
<div class="t n" style="left:932.7px;width:129px;top:395.74px;text-align:center;letter-spacing:0.11px;">0,00</div>
<div class="t n" style="left:1063.7px;width:129px;top:395.74px;text-align:center;letter-spacing:0.11px;">298,28</div>
<div class="t n" style="left:1194.7px;width:129px;top:395.74px;text-align:center;letter-spacing:0.11px;">18,69</div>
<div class="t n" style="left:1325.7px;width:129px;top:395.74px;text-align:center;letter-spacing:0.11px;">0,00</div>
<div class="t n" style="left:0px;width:127px;top:471.74px;text-align:center;letter-spacing:0.18px;">29 03 21</div>
<div class="t nb" style="left:131.7px;width:280px;top:415.74px;text-align:left;transform:scaleX(0.9913);transform-origin:0 0;">Всього</div>
<div class="t nb" style="left:413.8px;width:124px;top:415.74px;text-align:center;transform:scaleX(1.0325);transform-origin:50% 0;">1015403,11</div>
<div class="t nb" style="left:539.8px;width:129px;top:415.74px;text-align:center;transform:scaleX(1.0325);transform-origin:50% 0;">322066,70</div>
<div class="t nb" style="left:670.8px;width:129px;top:415.74px;text-align:center;transform:scaleX(1.0325);transform-origin:50% 0;">521830,42</div>
<div class="t nb" style="left:801.8px;width:129px;top:415.74px;text-align:center;transform:scaleX(1.0325);transform-origin:50% 0;">53298,02</div>
<div class="t nb" style="left:932.8px;width:129px;top:415.74px;text-align:center;transform:scaleX(1.0325);transform-origin:50% 0;">266,01</div>
<div class="t nb" style="left:1063.8px;width:129px;top:415.74px;text-align:center;transform:scaleX(1.0325);transform-origin:50% 0;">15107,79</div>
<div class="t nb" style="left:1194.8px;width:129px;top:415.74px;text-align:center;transform:scaleX(1.0325);transform-origin:50% 0;">102834,17</div>
<div class="t nb" style="left:1325.8px;width:129px;top:415.74px;text-align:center;transform:scaleX(1.0325);transform-origin:50% 0;">0,00</div>
<div class="t n" style="left:131px;width:280px;top:436.74px;text-align:left;letter-spacing:-0.05px;">ОВДП. номіновані в гривні. у т.ч.</div>
<div class="t n" style="left:413.7px;width:124px;top:436.74px;text-align:center;letter-spacing:0.11px;">875700,14</div>
<div class="t n" style="left:539.7px;width:129px;top:436.74px;text-align:center;letter-spacing:0.11px;">322066,70</div>
<div class="t n" style="left:670.7px;width:129px;top:436.74px;text-align:center;letter-spacing:0.11px;">412314,19</div>
<div class="t n" style="left:801.7px;width:129px;top:436.74px;text-align:center;letter-spacing:0.11px;">31894,00</div>
<div class="t n" style="left:932.7px;width:129px;top:436.74px;text-align:center;letter-spacing:0.11px;">266,01</div>
<div class="t n" style="left:1063.7px;width:129px;top:436.74px;text-align:center;letter-spacing:0.11px;">6924,97</div>
<div class="t n" style="left:1194.7px;width:129px;top:436.74px;text-align:center;letter-spacing:0.11px;">102234,26</div>
<div class="t n" style="left:1325.7px;width:129px;top:436.74px;text-align:center;letter-spacing:0.11px;">0,00</div>
<div class="t n" style="left:131px;width:280px;top:457.74px;text-align:left;letter-spacing:-0.22px;">ОВДП - ПДВ</div>
<div class="t n" style="left:413.7px;width:124px;top:457.74px;text-align:center;letter-spacing:0.11px;">0,00</div>
<div class="t n" style="left:539.7px;width:129px;top:457.74px;text-align:center;letter-spacing:0.11px;">0,00</div>
<div class="t n" style="left:670.7px;width:129px;top:457.74px;text-align:center;letter-spacing:0.11px;">0,00</div>
<div class="t n" style="left:801.7px;width:129px;top:457.74px;text-align:center;letter-spacing:0.11px;">0,00</div>
<div class="t n" style="left:932.7px;width:129px;top:457.74px;text-align:center;letter-spacing:0.11px;">0,00</div>
<div class="t n" style="left:1063.7px;width:129px;top:457.74px;text-align:center;letter-spacing:0.11px;">0,00</div>
<div class="t n" style="left:1194.7px;width:129px;top:457.74px;text-align:center;letter-spacing:0.11px;">0,00</div>
<div class="t n" style="left:1325.7px;width:129px;top:457.74px;text-align:center;letter-spacing:0.11px;">0,00</div>
<div class="t n" style="left:131px;width:280px;top:483.74px;text-align:left;letter-spacing:-0.07px;">ОВДП. номіновані в іноземній валюті. у т.ч.</div>
<div class="t n" style="left:413.7px;width:124px;top:483.74px;text-align:center;letter-spacing:0.11px;">139702,97</div>
<div class="t n" style="left:539.7px;width:129px;top:483.74px;text-align:center;letter-spacing:0.11px;">0,00</div>
<div class="t n" style="left:670.7px;width:129px;top:483.74px;text-align:center;letter-spacing:0.11px;">109516,23</div>
<div class="t n" style="left:801.7px;width:129px;top:483.74px;text-align:center;letter-spacing:0.11px;">21404,02</div>
<div class="t n" style="left:932.7px;width:129px;top:483.74px;text-align:center;letter-spacing:0.11px;">0,00</div>
<div class="t n" style="left:1063.7px;width:129px;top:483.74px;text-align:center;letter-spacing:0.11px;">8182,82</div>
<div class="t n" style="left:1194.7px;width:129px;top:483.74px;text-align:center;letter-spacing:0.11px;">599,90</div>
<div class="t n" style="left:1325.7px;width:129px;top:483.74px;text-align:center;letter-spacing:0.11px;">0,00</div>
<div class="t n" style="left:131px;width:280px;top:504.74px;text-align:left;letter-spacing:-0.1px;">ОВДП. номіновані в доларах США</div>
<div class="t n" style="left:413.7px;width:124px;top:504.74px;text-align:center;letter-spacing:0.11px;">116233,61</div>
<div class="t n" style="left:539.7px;width:129px;top:504.74px;text-align:center;letter-spacing:0.11px;">0,00</div>
<div class="t n" style="left:670.7px;width:129px;top:504.74px;text-align:center;letter-spacing:0.11px;">86676,26</div>
<div class="t n" style="left:801.7px;width:129px;top:504.74px;text-align:center;letter-spacing:0.11px;">21091,46</div>
<div class="t n" style="left:932.7px;width:129px;top:504.74px;text-align:center;letter-spacing:0.11px;">0,00</div>
<div class="t n" style="left:1063.7px;width:129px;top:504.74px;text-align:center;letter-spacing:0.11px;">7884,66</div>
<div class="t n" style="left:1194.7px;width:129px;top:504.74px;text-align:center;letter-spacing:0.11px;">581,22</div>
<div class="t n" style="left:1325.7px;width:129px;top:504.74px;text-align:center;letter-spacing:0.11px;">0,00</div>
<div class="t n" style="left:131px;width:280px;top:525.74px;text-align:left;letter-spacing:-0.02px;">ОВДП. номіновані в ЄВРО</div>
<div class="t n" style="left:413.7px;width:124px;top:525.74px;text-align:center;letter-spacing:0.11px;">23469,37</div>
<div class="t n" style="left:539.7px;width:129px;top:525.74px;text-align:center;letter-spacing:0.11px;">0,00</div>
<div class="t n" style="left:670.7px;width:129px;top:525.74px;text-align:center;letter-spacing:0.11px;">22839,96</div>
<div class="t n" style="left:801.7px;width:129px;top:525.74px;text-align:center;letter-spacing:0.11px;">312,56</div>
<div class="t n" style="left:932.7px;width:129px;top:525.74px;text-align:center;letter-spacing:0.11px;">0,00</div>
<div class="t n" style="left:1063.7px;width:129px;top:525.74px;text-align:center;letter-spacing:0.11px;">298,16</div>
<div class="t n" style="left:1194.7px;width:129px;top:525.74px;text-align:center;letter-spacing:0.11px;">18,68</div>
<div class="t n" style="left:1325.7px;width:129px;top:525.74px;text-align:center;letter-spacing:0.11px;">0,00</div>
<div class="t n" style="left:0px;width:127px;top:601.74px;text-align:center;letter-spacing:0.18px;">26 03 21</div>
<div class="t nb" style="left:131.7px;width:280px;top:545.74px;text-align:left;transform:scaleX(0.9913);transform-origin:0 0;">Всього</div>
<div class="t nb" style="left:413.8px;width:124px;top:545.74px;text-align:center;transform:scaleX(1.0325);transform-origin:50% 0;">1015468,34</div>
<div class="t nb" style="left:539.8px;width:129px;top:545.74px;text-align:center;transform:scaleX(1.0325);transform-origin:50% 0;">322066,70</div>
<div class="t nb" style="left:670.8px;width:129px;top:545.74px;text-align:center;transform:scaleX(1.0325);transform-origin:50% 0;">522051,71</div>
<div class="t nb" style="left:801.8px;width:129px;top:545.74px;text-align:center;transform:scaleX(1.0325);transform-origin:50% 0;">53198,40</div>
<div class="t nb" style="left:932.8px;width:129px;top:545.74px;text-align:center;transform:scaleX(1.0325);transform-origin:50% 0;">266,01</div>
<div class="t nb" style="left:1063.8px;width:129px;top:545.74px;text-align:center;transform:scaleX(1.0325);transform-origin:50% 0;">15059,25</div>
<div class="t nb" style="left:1194.8px;width:129px;top:545.74px;text-align:center;transform:scaleX(1.0325);transform-origin:50% 0;">102826,28</div>
<div class="t nb" style="left:1325.8px;width:129px;top:545.74px;text-align:center;transform:scaleX(1.0325);transform-origin:50% 0;">0,00</div>
<div class="t n" style="left:131px;width:280px;top:566.74px;text-align:left;letter-spacing:-0.05px;">ОВДП. номіновані в гривні. у т.ч.</div>
<div class="t n" style="left:413.7px;width:124px;top:566.74px;text-align:center;letter-spacing:0.11px;">875700,14</div>
<div class="t n" style="left:539.7px;width:129px;top:566.74px;text-align:center;letter-spacing:0.11px;">322066,70</div>
<div class="t n" style="left:670.7px;width:129px;top:566.74px;text-align:center;letter-spacing:0.11px;">412442,71</div>
<div class="t n" style="left:801.7px;width:129px;top:566.74px;text-align:center;letter-spacing:0.11px;">31803,00</div>
<div class="t n" style="left:932.7px;width:129px;top:566.74px;text-align:center;letter-spacing:0.11px;">266,01</div>
<div class="t n" style="left:1063.7px;width:129px;top:566.74px;text-align:center;letter-spacing:0.11px;">6881,55</div>
<div class="t n" style="left:1194.7px;width:129px;top:566.74px;text-align:center;letter-spacing:0.11px;">102240,17</div>
<div class="t n" style="left:1325.7px;width:129px;top:566.74px;text-align:center;letter-spacing:0.11px;">0,00</div>
<div class="t n" style="left:131px;width:280px;top:587.74px;text-align:left;letter-spacing:-0.22px;">ОВДП - ПДВ</div>
<div class="t n" style="left:413.7px;width:124px;top:587.74px;text-align:center;letter-spacing:0.11px;">0,00</div>
<div class="t n" style="left:539.7px;width:129px;top:587.74px;text-align:center;letter-spacing:0.11px;">0,00</div>
<div class="t n" style="left:670.7px;width:129px;top:587.74px;text-align:center;letter-spacing:0.11px;">0,00</div>
<div class="t n" style="left:801.7px;width:129px;top:587.74px;text-align:center;letter-spacing:0.11px;">0,00</div>
<div class="t n" style="left:932.7px;width:129px;top:587.74px;text-align:center;letter-spacing:0.11px;">0,00</div>
<div class="t n" style="left:1063.7px;width:129px;top:587.74px;text-align:center;letter-spacing:0.11px;">0,00</div>
<div class="t n" style="left:1194.7px;width:129px;top:587.74px;text-align:center;letter-spacing:0.11px;">0,00</div>
<div class="t n" style="left:1325.7px;width:129px;top:587.74px;text-align:center;letter-spacing:0.11px;">0,00</div>
<div class="t n" style="left:131px;width:280px;top:613.74px;text-align:left;letter-spacing:-0.07px;">ОВДП. номіновані в іноземній валюті. у т.ч.</div>
<div class="t n" style="left:413.7px;width:124px;top:613.74px;text-align:center;letter-spacing:0.11px;">139768,20</div>
<div class="t n" style="left:539.7px;width:129px;top:613.74px;text-align:center;letter-spacing:0.11px;">0,00</div>
<div class="t n" style="left:670.7px;width:129px;top:613.74px;text-align:center;letter-spacing:0.11px;">109609,00</div>
<div class="t n" style="left:801.7px;width:129px;top:613.74px;text-align:center;letter-spacing:0.11px;">21395,40</div>
<div class="t n" style="left:932.7px;width:129px;top:613.74px;text-align:center;letter-spacing:0.11px;">0,00</div>
<div class="t n" style="left:1063.7px;width:129px;top:613.74px;text-align:center;letter-spacing:0.11px;">8177,70</div>
<div class="t n" style="left:1194.7px;width:129px;top:613.74px;text-align:center;letter-spacing:0.11px;">586,10</div>
<div class="t n" style="left:1325.7px;width:129px;top:613.74px;text-align:center;letter-spacing:0.11px;">0,00</div>
<div class="t n" style="left:131px;width:280px;top:634.74px;text-align:left;letter-spacing:-0.1px;">ОВДП. номіновані в доларах США</div>
<div class="t n" style="left:413.7px;width:124px;top:634.74px;text-align:center;letter-spacing:0.11px;">116241,50</div>
<div class="t n" style="left:539.7px;width:129px;top:634.74px;text-align:center;letter-spacing:0.11px;">0,00</div>
<div class="t n" style="left:670.7px;width:129px;top:634.74px;text-align:center;letter-spacing:0.11px;">86713,24</div>
<div class="t n" style="left:801.7px;width:129px;top:634.74px;text-align:center;letter-spacing:0.11px;">21082,08</div>
<div class="t n" style="left:932.7px;width:129px;top:634.74px;text-align:center;letter-spacing:0.11px;">0,00</div>
<div class="t n" style="left:1063.7px;width:129px;top:634.74px;text-align:center;letter-spacing:0.11px;">7878,81</div>
<div class="t n" style="left:1194.7px;width:129px;top:634.74px;text-align:center;letter-spacing:0.11px;">567,37</div>
<div class="t n" style="left:1325.7px;width:129px;top:634.74px;text-align:center;letter-spacing:0.11px;">0,00</div>
<div class="t n" style="left:131px;width:280px;top:655.74px;text-align:left;letter-spacing:-0.02px;">ОВДП. номіновані в ЄВРО</div>
<div class="t n" style="left:413.7px;width:124px;top:655.74px;text-align:center;letter-spacing:0.11px;">23526,70</div>
<div class="t n" style="left:539.7px;width:129px;top:655.74px;text-align:center;letter-spacing:0.11px;">0,00</div>
<div class="t n" style="left:670.7px;width:129px;top:655.74px;text-align:center;letter-spacing:0.11px;">22895,76</div>
<div class="t n" style="left:801.7px;width:129px;top:655.74px;text-align:center;letter-spacing:0.11px;">313,32</div>
<div class="t n" style="left:932.7px;width:129px;top:655.74px;text-align:center;letter-spacing:0.11px;">0,00</div>
<div class="t n" style="left:1063.7px;width:129px;top:655.74px;text-align:center;letter-spacing:0.11px;">298,89</div>
<div class="t n" style="left:1194.7px;width:129px;top:655.74px;text-align:center;letter-spacing:0.11px;">18,73</div>
<div class="t n" style="left:1325.7px;width:129px;top:655.74px;text-align:center;letter-spacing:0.11px;">0,00</div>
<div class="t n" style="left:0px;width:127px;top:731.74px;text-align:center;letter-spacing:0.18px;">25 03 21</div>
<div class="t nb" style="left:131.7px;width:280px;top:675.74px;text-align:left;transform:scaleX(0.9913);transform-origin:0 0;">Всього</div>
<div class="t nb" style="left:413.8px;width:124px;top:675.74px;text-align:center;transform:scaleX(1.0325);transform-origin:50% 0;">1014988,55</div>
<div class="t nb" style="left:539.8px;width:129px;top:675.74px;text-align:center;transform:scaleX(1.0325);transform-origin:50% 0;">322066,70</div>
<div class="t nb" style="left:670.8px;width:129px;top:675.74px;text-align:center;transform:scaleX(1.0325);transform-origin:50% 0;">522010,66</div>
<div class="t nb" style="left:801.8px;width:129px;top:675.74px;text-align:center;transform:scaleX(1.0325);transform-origin:50% 0;">53492,15</div>
<div class="t nb" style="left:932.8px;width:129px;top:675.74px;text-align:center;transform:scaleX(1.0325);transform-origin:50% 0;">266,01</div>
<div class="t nb" style="left:1063.8px;width:129px;top:675.74px;text-align:center;transform:scaleX(1.0325);transform-origin:50% 0;">14995,78</div>
<div class="t nb" style="left:1194.8px;width:129px;top:675.74px;text-align:center;transform:scaleX(1.0325);transform-origin:50% 0;">102148,25</div>
<div class="t nb" style="left:1325.8px;width:129px;top:675.74px;text-align:center;transform:scaleX(1.0325);transform-origin:50% 0;">0,00</div>
</div></body></html>
